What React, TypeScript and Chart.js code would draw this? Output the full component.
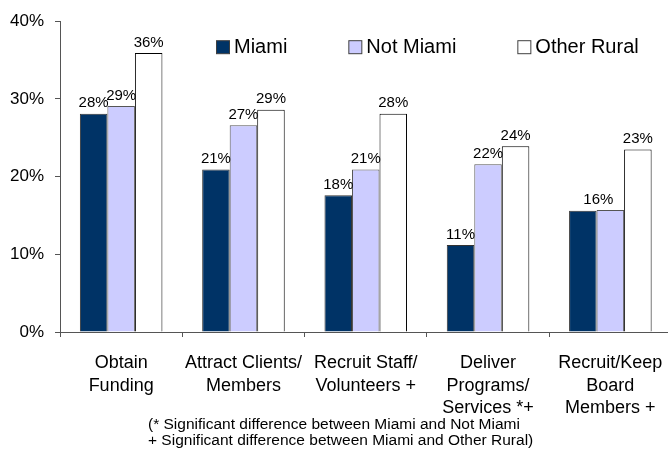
import React, { useEffect, useRef } from "react";
import { Chart, registerables } from "chart.js";

Chart.register(...registerables);

const categories: string[][] = [
  ["Obtain", "Funding"],
  ["Attract Clients/", "Members"],
  ["Recruit Staff/", "Volunteers +"],
  ["Deliver", "Programs/", "Services *+"],
  ["Recruit/Keep", "Board", "Members +"],
];

const miami = [28.1, 20.9, 17.6, 11.2, 15.6];
const notMiami = [29.1, 26.6, 20.9, 21.6, 15.7];
const otherRural = [35.9, 28.6, 28.1, 23.9, 23.5];

const miamiLabels: (string | null)[] = ["28%", "21%", "18%", "11%", null];
const notMiamiLabels: (string | null)[] = ["29%", "27%", "21%", "22%", "16%"];
const otherRuralLabels: (string | null)[] = ["36%", "29%", "28%", "24%", "23%"];

const seriesNames = ["Miami", "Not Miami", "Other Rural"];
const yTicks = [0, 10, 20, 30, 40];

const footnoteLines = [
  "(* Significant difference between Miami and Not Miami",
  "+ Significant difference between Miami and Other Rural)",
];

const FONT = "Arial, 'Liberation Sans', sans-serif";

const dataLabelPlugin = {
  id: "dataLabels",
  afterDatasetsDraw(chart: any) {
    const ctx = chart.ctx;
    const allLabels = [miamiLabels, notMiamiLabels, otherRuralLabels];
    ctx.save();
    ctx.font = `15px ${FONT}`;
    ctx.fillStyle = "#000";
    ctx.textAlign = "center";
    ctx.textBaseline = "bottom";
    chart.data.datasets.forEach((_ds: any, di: number) => {
      const meta = chart.getDatasetMeta(di);
      meta.data.forEach((bar: any, i: number) => {
        const lbl = allLabels[di][i];
        if (!lbl) return;
        let x = bar.x;
        // shared label for the last group sits between the first two bars
        if (di === 1 && allLabels[0][i] === null) x -= 12;
        ctx.fillText(lbl, x, bar.y - 3);
      });
    });
    ctx.restore();
  },
};

const legendPlugin = {
  id: "customLegend",
  afterDraw(chart: any) {
    const ctx = chart.ctx;
    const area = chart.chartArea;
    ctx.save();
    ctx.font = `20px ${FONT}`;
    ctx.textBaseline = "middle";
    ctx.textAlign = "left";
    let x = area.left + 156;
    const yMid = area.top + 25.5;
    const box = 13;
    chart.data.datasets.forEach((ds: any) => {
      ctx.fillStyle = ds.backgroundColor;
      ctx.fillRect(x + 0.5, yMid - box / 2 + 0.5, box, box);
      ctx.strokeStyle = "#404040";
      ctx.lineWidth = 1;
      ctx.strokeRect(x + 0.5, yMid - box / 2 + 0.5, box, box);
      ctx.fillStyle = "#000";
      ctx.fillText(ds.label, x + box + 5, yMid + 1);
      const w = ctx.measureText(ds.label).width;
      x += box + 6 + w + 60;
    });
    ctx.restore();
  },
};

export default function App() {
  const ref = useRef<HTMLCanvasElement>(null);

  useEffect(() => {
    document.body.style.margin = "0";
    const canvas = ref.current!;
    const chart = new Chart(canvas, {
      type: "bar",
      data: {
        labels: categories,
        datasets: [
          {
            label: seriesNames[0],
            data: miami,
            backgroundColor: "#003366",
            borderColor: "#333333",
            borderWidth: 1,
          },
          {
            label: seriesNames[1],
            data: notMiami,
            backgroundColor: "#CCCCFF",
            borderColor: "#555555",
            borderWidth: 1,
          },
          {
            label: seriesNames[2],
            data: otherRural,
            backgroundColor: "#FFFFFF",
            borderColor: "#000000",
            borderWidth: 1,
          },
        ],
      },
      options: {
        responsive: false,
        animation: false,
        layout: { padding: { top: 20, right: 8.5, left: 0, bottom: 0 } },
        datasets: {
          bar: { categoryPercentage: 0.675, barPercentage: 1 },
        },
        plugins: {
          legend: { display: false },
          tooltip: { enabled: false },
          title: { display: false },
        },
        scales: {
          x: {
            grid: {
              display: true,
              drawOnChartArea: false,
              drawTicks: true,
              tickLength: 5,
              color: "#555555",
              offset: true,
            },
            border: { display: true, color: "#555555", width: 1 },
            ticks: {
              color: "#000",
              font: { family: FONT, size: 18, lineHeight: 1.25 },
              maxRotation: 0,
              minRotation: 0,
              autoSkip: false,
              padding: 15,
            },
            afterFit: (scale: any) => {
              scale.height = 118;
            },
          },
          y: {
            min: 0,
            max: 40,
            afterBuildTicks: (scale: any) => {
              scale.ticks = yTicks.map((v) => ({ value: v }));
            },
            grid: {
              display: true,
              drawOnChartArea: false,
              drawTicks: true,
              tickLength: 5,
              color: "#555555",
            },
            border: { display: true, color: "#555555", width: 1 },
            ticks: {
              color: "#000",
              font: { family: FONT, size: 17 },
              padding: 11,
              callback: (v: any) => `${v}%`,
            },
            afterFit: (scale: any) => {
              scale.width = 60;
            },
          },
        },
      },
      plugins: [dataLabelPlugin, legendPlugin],
    });
    return () => chart.destroy();
  }, []);

  return (
    <div
      style={{
        position: "relative",
        width: 668,
        height: 450,
        overflow: "hidden",
        background: "#fff",
      }}
    >
      <canvas ref={ref} width={680} height={450} style={{ display: "block" }} />
      <div
        style={{
          position: "absolute",
          left: 148,
          top: 416,
          fontFamily: FONT,
          fontSize: "15.5px",
          lineHeight: "16px",
          color: "#000",
          whiteSpace: "pre",
        }}
      >
        {footnoteLines.join("\n")}
      </div>
    </div>
  );
}
